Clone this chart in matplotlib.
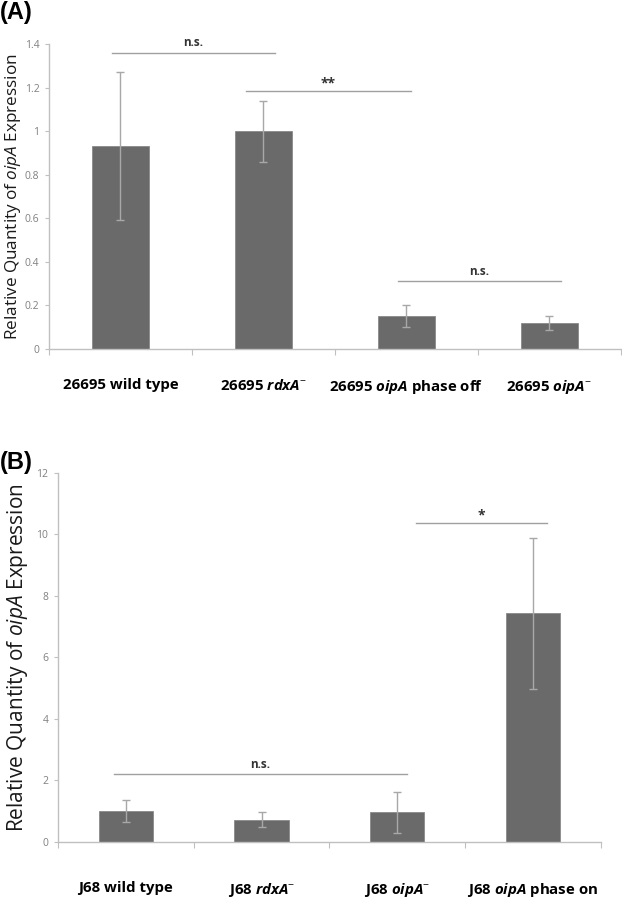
import numpy as np
import matplotlib
matplotlib.use("Agg")
import matplotlib.pyplot as plt

plt.rcParams['font.family'] = ['Open Sans', 'DejaVu Sans']
plt.rcParams['mathtext.fontset'] = 'custom'
plt.rcParams['mathtext.rm'] = 'Open Sans'
plt.rcParams['mathtext.it'] = 'Open Sans:italic'
plt.rcParams['mathtext.bf'] = 'Open Sans:bold'
plt.rcParams['mathtext.bfit'] = 'Open Sans:bold:italic'

# panel A data
labels_a = ["26695 wild type", "26695 $\\mathbfit{rdxA}^{-}$",
            "26695 $\\mathbfit{oipA}$ phase off", "26695 $\\mathbfit{oipA}^{-}$"]
vals_a = [0.93, 1.00, 0.15, 0.12]
err_a = [0.34, 0.14, 0.05, 0.033]
yticks_a = [0, 0.2, 0.4, 0.6, 0.8, 1, 1.2, 1.4]
# significance brackets: (x0, x1, y, text)
sig_a = [(-0.06, 1.08, 1.36, "n.s."), (0.88, 2.03, 1.185, "**"), (1.94, 3.08, 0.31, "n.s.")]

# panel B data
labels_b = ["J68 wild type", "J68 $\\mathbfit{rdxA}^{-}$",
            "J68 $\\mathbfit{oipA}^{-}$", "J68 $\\mathbfit{oipA}$ phase on"]
vals_b = [1.0, 0.72, 0.95, 7.43]
err_b = [0.37, 0.25, 0.67, 2.45]
yticks_b = [0, 2, 4, 6, 8, 10, 12]
sig_b = [(-0.09, 2.07, 2.19, "n.s."), (2.14, 3.1, 10.37, "*")]

bar_color = "#6a6a6a"
axis_gray = "#c0c0c0"
err_gray = "#a8a8a8"

fig = plt.figure(figsize=(6.22, 9), dpi=100)
ax_a = fig.add_axes([0.0788, 0.6122, 0.9192, 0.339])
ax_b = fig.add_axes([0.0932, 0.0648, 0.8728, 0.41])


def draw_panel(ax, labels, vals, errs, yticks, sigs, ylab_size, ylab_x, xlab_pad, sig_pad):
    x = np.arange(len(vals))
    ax.bar(x, vals, width=0.4, color=bar_color, edgecolor="#8a8a8a", linewidth=0.6, zorder=2)
    ax.errorbar(x, vals, yerr=errs, fmt="none", ecolor=err_gray, elinewidth=1.0,
                capsize=3, capthick=1.0, zorder=3)
    ax.set_xlim(-0.5, len(vals) - 0.5)
    ax.set_ylim(0, yticks[-1])
    ax.set_yticks(yticks)
    ax.set_yticklabels([str(t) for t in yticks])
    ax.tick_params(axis="y", labelsize=7.5, labelcolor="#808080", color=axis_gray,
                   length=3, width=0.8, pad=4)
    ax.set_xticks(np.arange(-0.5, len(vals), 1.0))
    ax.set_xticklabels([])
    ax.tick_params(axis="x", which="major", color=axis_gray, length=4, width=0.8, direction="out")
    ax.set_xticks(x, minor=True)
    ax.set_xticklabels(labels, minor=True, fontsize=10.8, fontweight="bold")
    ax.tick_params(axis="x", which="minor", length=0, pad=xlab_pad)
    for s in ["top", "right"]:
        ax.spines[s].set_visible(False)
    for s in ["left", "bottom"]:
        ax.spines[s].set_color(axis_gray)
        ax.spines[s].set_linewidth(1.0)
    ax.set_ylabel("Relative Quantity of $\\mathit{oipA}$ Expression", fontsize=ylab_size,
                  color="#1a1a1a")
    ax.yaxis.set_label_coords(ylab_x, 0.5)
    for x0, x1, y, txt in sigs:
        ax.plot([x0, x1], [y, y], color="#a0a0a0", lw=1.0, zorder=1)
        pad = 0 if "*" in txt else sig_pad
        ax.text((x0 + x1) / 2, y + pad, txt, ha="center", va="bottom",
                fontsize=8.5 if txt == "n.s." else 10, fontweight="bold", color="#333333")


draw_panel(ax_a, labels_a, vals_a, err_a, yticks_a, sig_a, 12.3, -0.046, 21, 0.015)
draw_panel(ax_b, labels_b, vals_b, err_b, yticks_b, sig_b, 15, -0.052, 28, 0.12)

fig.text(0.0, 0.999, "(A)", fontsize=17, fontweight="bold", family="Liberation Sans",
         ha="left", va="top")
fig.text(0.0, 0.499, "(B)", fontsize=17, fontweight="bold", family="Liberation Sans",
         ha="left", va="top")

fig.savefig("out.png", dpi=100)
